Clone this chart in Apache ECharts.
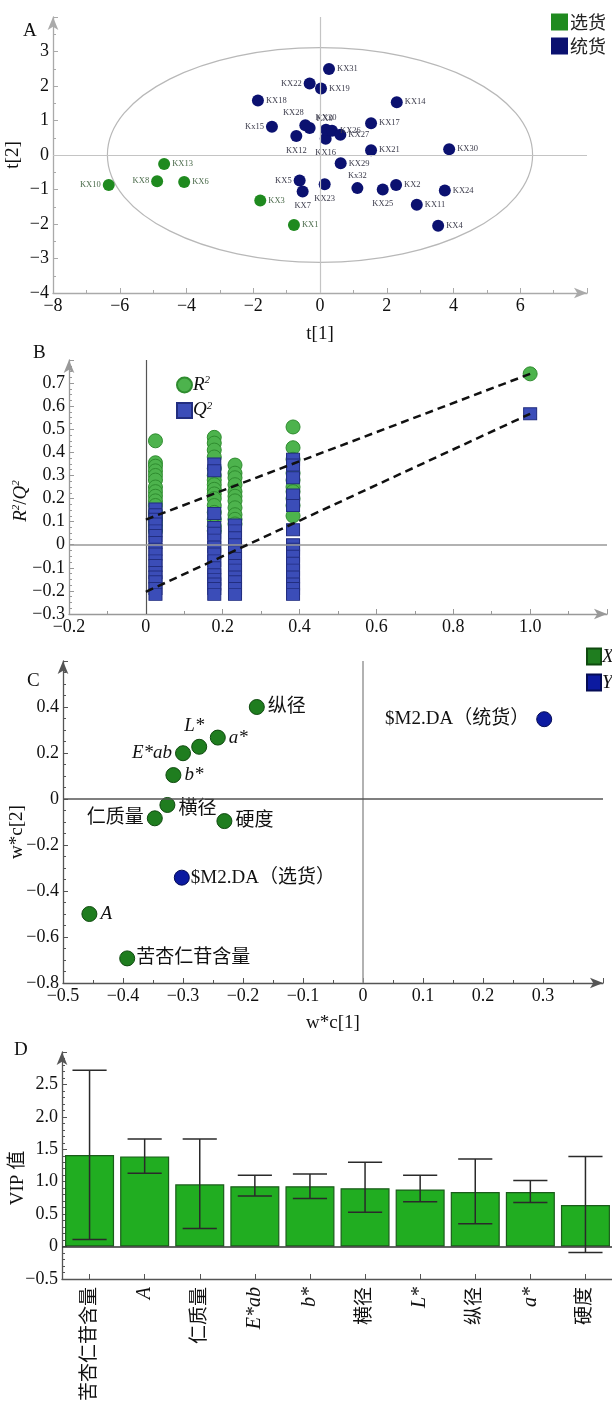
<!DOCTYPE html>
<html>
<head>
<meta charset="utf-8">
<script src="https://cdn.jsdelivr.net/npm/echarts@6/dist/echarts.min.js"></script>
<style>
html, body { margin: 0; padding: 0; background: #fff; }
#chart { width: 612px; height: 1405px; }
</style>
</head>
<body>
<div id="chart"></div>
<script>
// A: score plot t[1] / t[2]
const selectNames = ['KX1', 'KX3', 'KX6', 'KX8', 'KX10', 'KX13'];
const selectT1 = [-0.78, -1.79, -4.07, -4.88, -6.33, -4.67];
const selectT2 = [-2.03, -1.32, -0.78, -0.76, -0.87, -0.26];

const bulkNames = ['KX2', 'KX4', 'KX5', 'KX7', 'KX9', 'KX11', 'KX12', 'KX14', 'Kx15', 'KX16', 'KX17', 'KX18', 'KX19', 'KX20',
  'KX21', 'KX22', 'KX23', 'KX24', 'KX25', 'KX26', 'KX27', 'KX28', 'KX29', 'KX30', 'KX31', 'Kx32'];
const bulkT1 = [2.28, 3.54, -0.61, -0.52, -0.31, 2.90, -0.71, 2.30, -1.44, 0.17, 1.53, -1.86, 0.03, 0.18,
  1.53, -0.31, 0.14, 3.74, 1.88, 0.36, 0.61, -0.44, 0.62, 3.87, 0.27, 1.12];
const bulkT2 = [-0.87, -2.05, -0.74, -1.06, 0.78, -1.44, 0.55, 1.53, 0.82, 0.47, 0.92, 1.58, 1.93, 0.73,
  0.14, 2.07, -0.85, -1.03, -1.00, 0.70, 0.59, 0.86, -0.24, 0.17, 2.49, -0.96];

// Hotelling T2 ellipse semi-axes
const ellipseT1 = 6.37;
const ellipseT2 = 3.11;

// B: permutation test
const permX = [0.025, 0.178, 0.232, 0.383];
const permR2 = [
  [0.45, 0.355, 0.34, 0.32, 0.30, 0.28, 0.25, 0.23, 0.21, 0.19, 0.17, 0.14, 0.12, 0.10, 0.08, 0.06],
  [0.465, 0.44, 0.41, 0.38, 0.33, 0.30, 0.28, 0.26, 0.24, 0.22, 0.20, 0.17, 0.14, 0.11, 0.08, 0.06],
  [0.345, 0.31, 0.29, 0.26, 0.23, 0.21, 0.19, 0.16, 0.13, 0.11, 0.09],
  [0.51, 0.42, 0.37, 0.31, 0.28, 0.25, 0.23, 0.20, 0.17, 0.125]
];
const permQ2 = [
  [0.155, 0.13, 0.11, 0.09, 0.06, 0.04, 0.01, -0.02, -0.04, -0.07, -0.09, -0.12, -0.14, -0.16, -0.19, -0.215],
  [0.35, 0.32, 0.135, 0.075, 0.05, 0.02, -0.01, -0.04, -0.07, -0.10, -0.13, -0.15, -0.17, -0.19, -0.215],
  [0.085, 0.06, 0.03, 0.0, -0.03, -0.06, -0.09, -0.11, -0.14, -0.16, -0.19, -0.215],
  [0.37, 0.345, 0.29, 0.215, 0.17, 0.065, 0.0, -0.02, -0.05, -0.08, -0.11, -0.14, -0.17, -0.19, -0.215]
];
const modelX = 1.0;
const modelR2 = 0.74;
const modelQ2 = 0.567;
const r2Intercept = 0.109;
const q2Intercept = -0.204;

// C: loading plot w*c[1] / w*c[2]
const xVarNames = ['纵径', 'a*', 'L*', 'E*ab', 'b*', '横径', '仁质量', '硬度', 'A', '苦杏仁苷含量'];
const xVarWc1 = [-0.177, -0.242, -0.273, -0.300, -0.316, -0.326, -0.347, -0.231, -0.456, -0.393];
const xVarWc2 = [0.400, 0.267, 0.227, 0.199, 0.104, -0.026, -0.084, -0.096, -0.500, -0.693];
const yVarNames = ['$M2.DA（统货）', '$M2.DA（选货）'];
const yVarWc1 = [0.302, -0.302];
const yVarWc2 = [0.347, -0.342];

// D: VIP
const vipNames = ['苦杏仁苷含量', 'A', '仁质量', 'E*ab', 'b*', '横径', 'L*', '纵径', 'a*', '硬度'];
const vipValues = [1.41, 1.39, 0.96, 0.93, 0.93, 0.90, 0.88, 0.84, 0.84, 0.64];
const vipHigh = [2.72, 1.66, 1.66, 1.10, 1.12, 1.30, 1.10, 1.35, 1.02, 1.39];
const vipLow = [0.11, 1.13, 0.28, 0.78, 0.74, 0.53, 0.69, 0.35, 0.68, -0.09];

const SERIF = "'Liberation Serif', 'Noto Sans CJK SC', serif";
const italicNames = new Set(['A', 'E*ab', 'b*', 'L*', 'a*']);

// minus sign like the print version, hide the arrow-end label
function fmt(v, digits, hideAt) {
  if (hideAt !== undefined && Math.abs(v - hideAt) < 1e-6) return '';
  if (Math.abs(v) < 1e-9) return '0';
  const s = digits === undefined ? String(v) : v.toFixed(digits);
  return s.replace('-', '\u2212');
}

function valueAxis(grid, min, max, interval, digits, color, minorSplit) {
  return {
    type: 'value', gridIndex: grid, min: min, max: max, interval: interval,
    axisLine: { show: true, onZero: false, symbol: ['none', 'arrow'], symbolSize: [8, 13],
      lineStyle: { color: color, width: 1.3 } },
    axisTick: { show: true, inside: true, length: 5, lineStyle: { color: color } },
    minorTick: { show: true, splitNumber: minorSplit, length: 3, lineStyle: { color: color } },
    splitLine: { show: false },
    axisLabel: { color: '#111', fontFamily: SERIF, fontSize: 18, margin: 4,
      formatter: v => fmt(v, digits, max) }
  };
}

// y-axis title, placed by gap from the axis line
function yName(text, gap, style) {
  return { name: text, nameLocation: 'middle', nameGap: gap, nameMoveOverlap: false, nameTextStyle: style };
}

// label placement for score plot
const scoreLabelPos = {
  KX10: ['left', [0, 0]], KX8: ['left', [0, 0]], KX22: ['left', [0, 0]], KX5: ['left', [0, 0]], Kx15: ['left', [0, 0]],
  KX28: ['top', [-12, 0]], Kx32: ['top', [0, 0]], KX20: ['top', [0, 0]], KX9: ['top', [15, 3]],
  KX12: ['bottom', [0, 2]], KX16: ['bottom', [0, 2]], KX7: ['bottom', [0, 2]], KX23: ['bottom', [0, 2]], KX25: ['bottom', [0, 2]]
};
function scoreItem(name, x, y) {
  const p = scoreLabelPos[name] || ['right', [0, 0]];
  return { name: name, value: [x, y], label: { position: p[0], offset: p[1] } };
}

const loadLabelPos = {
  '纵径': ['right', [0, 0]], 'a*': ['right', [0, 0]], 'L*': ['top', [-5, 0]], 'E*ab': ['left', [0, 0]],
  'b*': ['right', [0, 0]], '横径': ['right', [0, 4]], '仁质量': ['left', [0, 0]], '硬度': ['right', [0, 0]],
  'A': ['right', [0, 0]], '苦杏仁苷含量': ['right', [-2, 0]],
  '$M2.DA（统货）': ['left', [-4, 0]], '$M2.DA（选货）': ['right', [-2, 0]]
};
function loadItem(name, x, y) {
  const p = loadLabelPos[name];
  return { name: name, value: [x, y],
    label: { position: p[0], offset: p[1], fontStyle: italicNames.has(name) ? 'italic' : 'normal' } };
}

const permR2Data = [];
const permQ2Data = [];
permX.forEach((x, i) => {
  permR2[i].forEach(v => permR2Data.push([x, v]));
  permQ2[i].forEach(v => permQ2Data.push([x, v]));
});
permR2Data.push([modelX, modelR2]);
permQ2Data.push([modelX, modelQ2]);

const supRich = {
  i: { fontFamily: SERIF, fontStyle: 'italic', fontSize: 19, color: '#111' },
  s: { fontFamily: SERIF, fontStyle: 'italic', fontSize: 11, color: '#111', padding: [0, 0, 9, 0] },
  n: { fontFamily: SERIF, fontSize: 19, color: '#111' }
};
const nameStyle = { fontFamily: SERIF, fontSize: 19, color: '#111' };

const chart = echarts.init(document.getElementById('chart'));

const option = {
  animation: false,
  backgroundColor: '#fff',
  grid: [
    { left: 53, top: 17, width: 534, height: 276, outerBoundsMode: 'none', containLabel: false },
    { left: 69, top: 360, width: 538, height: 254, outerBoundsMode: 'none', containLabel: false },
    { left: 63, top: 661, width: 540, height: 322, outerBoundsMode: 'none', containLabel: false },
    { left: 62, top: 1052, width: 551, height: 227, outerBoundsMode: 'none', containLabel: false }
  ],
  xAxis: [
    Object.assign(valueAxis(0, -8, 8, 2, undefined, '#aaa', 2),
      { name: 't[1]', nameLocation: 'middle', nameGap: 32, nameTextStyle: nameStyle }),
    valueAxis(1, -0.2, 1.2, 0.2, 1, '#999', 2),
    Object.assign(valueAxis(2, -0.5, 0.4, 0.1, 1, '#555', 2),
      { name: 'w*c[1]', nameLocation: 'middle', nameGap: 31, nameTextStyle: nameStyle }),
    {
      type: 'category', gridIndex: 3, data: vipNames,
      axisLine: { show: true, onZero: false, lineStyle: { color: '#555', width: 1.3 } },
      axisTick: { show: true, inside: true, alignWithLabel: true, length: 5, lineStyle: { color: '#555' } },
      axisLabel: { rotate: 90, interval: 0, margin: 8, color: '#111', fontFamily: SERIF, fontSize: 19,
        formatter: v => italicNames.has(v) ? '{i|' + v + '}' : v,
        rich: { i: { fontFamily: SERIF, fontStyle: 'italic', fontSize: 20, color: '#111' } } }
    }
  ],
  yAxis: [
    Object.assign(valueAxis(0, -4, 4, 1, undefined, '#aaa', 2), yName('t[2]', 30, nameStyle)),
    Object.assign(valueAxis(1, -0.3, 0.8, 0.1, 1, '#999', 4),
      yName('{i|R}{s|2}{n|/}{i|Q}{s|2}', 38, { rich: supRich, padding: [0, 0, 0, -28] })),
    Object.assign(valueAxis(2, -0.8, 0.6, 0.2, 1, '#555', 4),
      yName('w*c[2]', 36, Object.assign({ padding: [0, 0, 0, -20] }, nameStyle))),
    Object.assign(valueAxis(3, -0.5, 3.0, 0.5, 1, '#555', 5),
      yName('VIP 值', 34, Object.assign({ padding: [0, 0, 0, -25] }, nameStyle)))
  ],
  legend: [
    { orient: 'vertical', left: 546, top: 8, itemWidth: 17, itemHeight: 17, itemGap: 6, selectedMode: false,
      icon: 'rect', data: ['选货', '统货'],
      textStyle: { fontFamily: "'Noto Sans CJK SC', serif", fontSize: 18, color: '#222', padding: [0, 0, 0, -3] } },
    { orient: 'vertical', left: 171, top: 370, itemWidth: 15, itemHeight: 15, itemGap: 6, selectedMode: false,
      data: [{ name: 'R2', icon: 'circle' }, { name: 'Q2', icon: 'rect' }],
      formatter: n => n === 'R2' ? '{i|R}{s|2}' : '{i|Q}{s|2}',
      textStyle: { rich: supRich, padding: [0, 0, 0, -4] } },
    { orient: 'vertical', left: 581, top: 642, itemWidth: 14, itemHeight: 16, itemGap: 7, selectedMode: false,
      icon: 'rect', data: ['X', 'Y'],
      textStyle: { fontFamily: SERIF, fontStyle: 'italic', fontSize: 19, color: '#111', padding: [0, 0, 0, -4] } }
  ],
  graphic: [
    { type: 'text', left: 23, top: 22, style: { text: 'A', font: "19px 'Liberation Serif'", fill: '#111' } },
    { type: 'text', left: 33, top: 344, style: { text: 'B', font: "19px 'Liberation Serif'", fill: '#111' } },
    { type: 'text', left: 27, top: 672, style: { text: 'C', font: "19px 'Liberation Serif'", fill: '#111' } },
    { type: 'text', left: 14, top: 1041, style: { text: 'D', font: "19px 'Liberation Serif'", fill: '#111' } }
  ],
  series: [
    // ---- A
    {
      type: 'custom', xAxisIndex: 0, yAxisIndex: 0, silent: true, z: 1,
      data: [[0, 0]],
      renderItem: (params, api) => {
        const c = api.coord([api.value(0), api.value(1)]);
        const s = api.size([ellipseT1, ellipseT2]);
        return { type: 'ellipse', shape: { cx: c[0], cy: c[1], rx: s[0], ry: s[1] },
          style: { fill: 'none', stroke: '#b8b8b8', lineWidth: 1.2 } };
      }
    },
    {
      name: '选货', type: 'scatter', xAxisIndex: 0, yAxisIndex: 0, z: 3,
      symbolSize: 12, itemStyle: { color: '#1f8a1f', opacity: 1 },
      label: { show: true, formatter: '{b}', fontFamily: SERIF, fontSize: 8.5, color: '#4a6a4a', distance: 2 },
      data: selectNames.map((n, i) => scoreItem(n, selectT1[i], selectT2[i])),
      markLine: { silent: true, symbol: 'none', label: { show: false },
        lineStyle: { color: '#c4c4c4', type: 'solid', width: 1.2 },
        data: [{ xAxis: 0 }, { yAxis: 0 }] }
    },
    {
      name: '统货', type: 'scatter', xAxisIndex: 0, yAxisIndex: 0, z: 3,
      symbolSize: 12, itemStyle: { color: '#0b1170', opacity: 1 },
      label: { show: true, formatter: '{b}', fontFamily: SERIF, fontSize: 8.5, color: '#3a3a4a', distance: 2 },
      data: bulkNames.map((n, i) => scoreItem(n, bulkT1[i], bulkT2[i]))
    },
    // ---- B
    {
      name: 'R2', type: 'scatter', xAxisIndex: 1, yAxisIndex: 1, z: 3,
      symbol: 'circle', symbolSize: 14,
      itemStyle: { color: '#4db34d', borderColor: '#2f8c2f', borderWidth: 1, opacity: 1 },
      data: permR2Data,
      markLine: { silent: true, symbol: 'none', label: { show: false },
        data: [
          { xAxis: 0, lineStyle: { color: '#555', type: 'solid', width: 1.2 } },
          { yAxis: 0, lineStyle: { color: '#999', type: 'solid', width: 1.6 } }
        ] }
    },
    {
      name: 'Q2', type: 'scatter', xAxisIndex: 1, yAxisIndex: 1, z: 4,
      symbol: 'rect', symbolSize: [13, 12],
      itemStyle: { color: '#3b4db8', borderColor: '#222e80', borderWidth: 1, opacity: 1 },
      data: permQ2Data
    },
    {
      type: 'line', xAxisIndex: 1, yAxisIndex: 1, z: 5, silent: true, symbol: 'none',
      lineStyle: { color: '#111', width: 2.5, type: [8, 5] },
      data: [[0, r2Intercept], [modelX, modelR2]]
    },
    {
      type: 'line', xAxisIndex: 1, yAxisIndex: 1, z: 5, silent: true, symbol: 'none',
      lineStyle: { color: '#111', width: 2.5, type: [8, 5] },
      data: [[0, q2Intercept], [modelX, modelQ2]]
    },
    // ---- C
    {
      name: 'X', type: 'scatter', xAxisIndex: 2, yAxisIndex: 2, z: 3,
      symbolSize: 15, itemStyle: { color: '#1f7d1f', borderColor: '#0f4a0f', borderWidth: 1, opacity: 1 },
      label: { show: true, formatter: '{b}', fontFamily: SERIF, fontSize: 19, color: '#111', distance: 3 },
      data: xVarNames.map((n, i) => loadItem(n, xVarWc1[i], xVarWc2[i])),
      markLine: { silent: true, symbol: 'none', label: { show: false },
        data: [
          { xAxis: 0, lineStyle: { color: '#999', type: 'solid', width: 1.5 } },
          { yAxis: 0, lineStyle: { color: '#555', type: 'solid', width: 1.5 } }
        ] }
    },
    {
      name: 'Y', type: 'scatter', xAxisIndex: 2, yAxisIndex: 2, z: 3,
      symbolSize: 15, itemStyle: { color: '#0c1aa0', borderColor: '#050c55', borderWidth: 1, opacity: 1 },
      label: { show: true, formatter: '{b}', fontFamily: SERIF, fontSize: 19, color: '#111', distance: 3 },
      data: yVarNames.map((n, i) => loadItem(n, yVarWc1[i], yVarWc2[i]))
    },
    // ---- D
    {
      name: 'VIP', type: 'bar', xAxisIndex: 3, yAxisIndex: 3, z: 2,
      barCategoryGap: '11%',
      itemStyle: { color: '#21ad21', borderColor: '#1b5c1b', borderWidth: 1.2 },
      data: vipValues,
      markLine: { silent: true, symbol: 'none', label: { show: false },
        lineStyle: { color: '#333', type: 'solid', width: 1.5 },
        data: [{ yAxis: 0 }] }
    },
    {
      type: 'custom', xAxisIndex: 3, yAxisIndex: 3, z: 4, silent: true,
      encode: { x: 0, y: [1, 2] },
      data: vipNames.map((n, i) => [i, vipLow[i], vipHigh[i]]),
      renderItem: (params, api) => {
        const lo = api.coord([api.value(0), api.value(1)]);
        const hi = api.coord([api.value(0), api.value(2)]);
        const half = api.size([1, 0])[0] * 0.31;
        const st = { stroke: '#2a2a2a', lineWidth: 1.5 };
        return { type: 'group', children: [
          { type: 'line', shape: { x1: lo[0], y1: lo[1], x2: hi[0], y2: hi[1] }, style: st },
          { type: 'line', shape: { x1: hi[0] - half, y1: hi[1], x2: hi[0] + half, y2: hi[1] }, style: st },
          { type: 'line', shape: { x1: lo[0] - half, y1: lo[1], x2: lo[0] + half, y2: lo[1] }, style: st }
        ] };
      }
    }
  ]
};

chart.setOption(option);
</script>
</body>
</html>
